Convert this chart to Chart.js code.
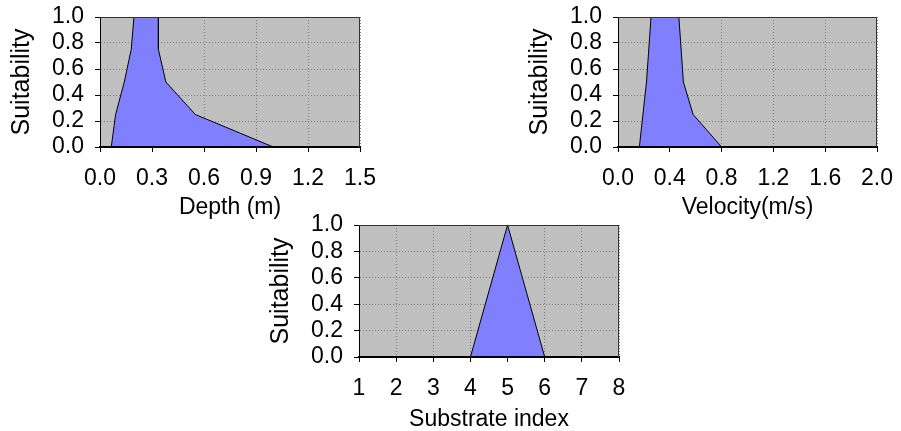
<!DOCTYPE html>
<html>
<head>
<meta charset="utf-8">
<script src="https://cdn.jsdelivr.net/npm/chart.js@4"></script>
<style>
  html, body { margin: 0; padding: 0; background: #fff; }
  body { width: 901px; height: 431px; position: relative; overflow: hidden; }
  canvas { position: absolute; }
</style>
</head>
<body>
<canvas id="depthChart" width="380" height="225" style="left:0;top:0"></canvas>
<canvas id="velocityChart" width="383" height="225" style="left:518px;top:0"></canvas>
<canvas id="substrateChart" width="380" height="223" style="left:259px;top:208px"></canvas>
<script>
// Suitability curves (x, suitability)
const depthX = [0.065, 0.09, 0.14, 0.18, 0.196, 0.337, 0.337, 0.38, 0.55, 1.0];
const depthY = [0, 0.25, 0.5, 0.75, 1, 1, 0.75, 0.5, 0.25, 0];
const velocityX = [0.165, 0.22, 0.255, 0.47, 0.505, 0.58, 0.8];
const velocityY = [0, 0.5, 1, 1, 0.5, 0.25, 0];
const substrateX = [4, 5, 6];
const substrateY = [0, 1, 0];

const suitTicks = [0, 0.2, 0.4, 0.6, 0.8, 1.0];
const depthTicks = [0, 0.3, 0.6, 0.9, 1.2, 1.5];
const velocityTicks = [0, 0.4, 0.8, 1.2, 1.6, 2.0];
const substrateTicks = [1, 2, 3, 4, 5, 6, 7, 8];

const FONT = 'Liberation Sans, Arial, sans-serif';

// grey plot area + dark frame on top/right
const plotFrame = {
    id: 'plotFrame',
    beforeDraw(chart) {
        const { ctx, chartArea: a } = chart;
        ctx.save();
        ctx.fillStyle = '#c0c0c0';
        ctx.fillRect(a.left, a.top, a.right - a.left, a.bottom - a.top);
        ctx.restore();
    },
    afterDraw(chart) {
        const { ctx, chartArea: a } = chart;
        ctx.save();
        ctx.strokeStyle = '#333';
        ctx.lineWidth = 1;
        ctx.beginPath();
        ctx.moveTo(a.left, a.top + 0.5);
        ctx.lineTo(a.right - 0.5, a.top + 0.5);
        ctx.lineTo(a.right - 0.5, a.bottom);
        ctx.stroke();
        ctx.restore();
    }
};

function makeChart(id, xs, ys, xTicks, xTitle, fmt, pad, xHeight, titleBottom) {
    const points = xs.map((x, i) => ({ x: x, y: ys[i] }));
    return new Chart(document.getElementById(id), {
        type: 'line',
        data: {
            datasets: [{
                data: points,
                borderColor: '#000',
                borderWidth: 1,
                backgroundColor: '#8080ff',
                fill: 'origin',
                pointRadius: 0,
                tension: 0
            }]
        },
        options: {
            responsive: false,
            animation: false,
            layout: { padding: { top: 17, right: pad, left: 0, bottom: 0 } },
            plugins: { legend: { display: false }, tooltip: { enabled: false } },
            scales: {
                x: {
                    type: 'linear',
                    min: xTicks[0],
                    max: xTicks[xTicks.length - 1],
                    afterBuildTicks: s => { s.ticks = xTicks.map(v => ({ value: v })); },
                    afterFit: s => {
                        s.height = xHeight;
                        s.paddingLeft = 0;
                        s.paddingRight = 0;
                    },
                    ticks: {
                        callback: fmt,
                        color: '#000',
                        font: { family: FONT, size: 23 },
                        padding: 13,
                        maxRotation: 0,
                        autoSkip: false
                    },
                    grid: { color: '#808080', tickColor: '#000', tickLength: 5, lineWidth: 1 },
                    border: { color: '#000', width: 2, dash: [1, 2], z: 1 },
                    title: {
                        display: true,
                        text: xTitle,
                        color: '#000',
                        font: { family: FONT, size: 23 },
                        padding: { top: 0, bottom: titleBottom }
                    }
                },
                y: {
                    min: 0,
                    max: 1,
                    afterBuildTicks: s => { s.ticks = suitTicks.map(v => ({ value: v })); },
                    afterFit: s => {
                        s.width = 100;
                        s.paddingTop = 0;
                        s.paddingBottom = 0;
                    },
                    ticks: {
                        callback: v => v.toFixed(1),
                        color: '#000',
                        font: { family: FONT, size: 23 },
                        padding: 11,
                        autoSkip: false
                    },
                    grid: { color: '#808080', tickColor: '#000', tickLength: 5, lineWidth: 1 },
                    border: { color: '#000', width: 1, dash: [1, 2], z: 1 },
                    title: {
                        display: true,
                        text: 'Suitability',
                        color: '#000',
                        font: { family: FONT, size: 25 },
                        padding: { top: 7, bottom: 0 }
                    }
                }
            }
        },
        plugins: [plotFrame]
    });
}

makeChart('depthChart', depthX, depthY, depthTicks, 'Depth (m)', v => v.toFixed(1), 20, 78, 4);
makeChart('velocityChart', velocityX, velocityY, velocityTicks, 'Velocity(m/s)', v => v.toFixed(1), 24, 78, 4);
makeChart('substrateChart', substrateX, substrateY, substrateTicks, 'Substrate index', v => String(v), 20, 74, -2);
</script>
</body>
</html>
